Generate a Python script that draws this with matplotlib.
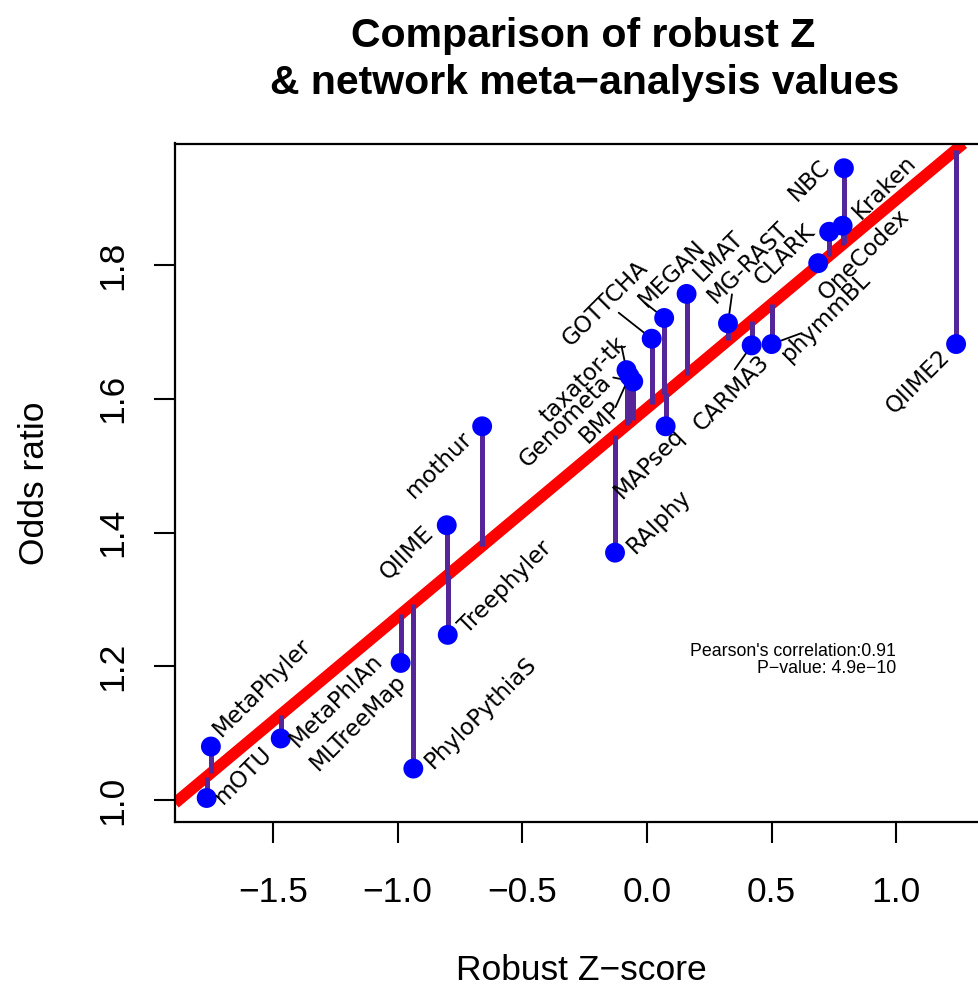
import matplotlib
matplotlib.use('Agg')
import matplotlib.pyplot as plt
import numpy as np

# ---------------- data ----------------
tools = ['mOTU', 'MetaPhyler', 'MetaPhlAn', 'MLTreeMap', 'PhyloPythiaS', 'QIIME',
         'Treephyler', 'mothur', 'RAIphy', 'taxator-tk', 'BMP', 'Genometa',
         'GOTTCHA', 'MEGAN', 'MAPseq', 'LMAT', 'MG-RAST', 'CARMA3', 'phymmBL',
         'OneCodex', 'CLARK', 'Kraken', 'NBC', 'QIIME2']
robust_z = [-1.766, -1.749, -1.469, -0.988, -0.937, -0.803,
            -0.799, -0.661, -0.128, -0.082, -0.070, -0.055,
            0.019, 0.069, 0.075, 0.159, 0.325, 0.420, 0.500,
            0.687, 0.731, 0.785, 0.790, 1.240]
odds_ratio = [1.003, 1.080, 1.092, 1.205, 1.047, 1.411,
              1.247, 1.559, 1.370, 1.643, 1.634, 1.626,
              1.690, 1.721, 1.559, 1.757, 1.713, 1.680, 1.682,
              1.803, 1.850, 1.859, 1.945, 1.682]
fit_intercept = 1.586
fit_slope = 0.312
pearson_r = '0.91'
p_value = '4.9e\u221210'

# ---------------- layout (pixels, dy positive = up) ----------------
label_offset = {
    'mOTU': (37, 23), 'MetaPhyler': (51, 59), 'MetaPhlAn': (55, 38),
    'MLTreeMap': (-43, -59), 'PhyloPythiaS': (67, 56), 'QIIME': (-40, -27),
    'Treephyler': (58, 48), 'mothur': (-43, -38), 'RAIphy': (44, 31),
    'taxator-tk': (-43, -10), 'BMP': (-29, -46), 'Genometa': (-68, -40),
    'GOTTCHA': (-46, 35), 'MEGAN': (8, 45), 'MAPseq': (-16, -37),
    'LMAT': (32, 38), 'MG-RAST': (20, 61), 'CARMA3': (-20, -48),
    'phymmBL': (54, 27), 'OneCodex': (46, 9), 'CLARK': (-44, -23),
    'Kraken': (42, 39), 'NBC': (-35, -12), 'QIIME2': (-38, -37),
}
leaders = {
    'GOTTCHA': (-33, 26),
    'MEGAN': (-19, 15),
    'MG-RAST': (4, 29),
    'CARMA3': (-17, -24),
    'phymmBL': (30, 11),
    'taxator-tk': (-5, 24),
    'Genometa': (-20, 4),
    'BMP': (-14, -31),
}
PX = 0.72  # points per pixel at dpi 100

W, H = 979, 991
fig = plt.figure(figsize=(W / 100, H / 100), dpi=100)
ax_l, ax_r, ax_t, ax_b = 175, 988, 143.5, 822
ax = fig.add_axes([ax_l / W, 1 - ax_b / H, (ax_r - ax_l) / W, (ax_b - ax_t) / H])

ax.set_xlim(-1.893, 1.368)
ax.set_ylim(0.9671, 1.982)

x = np.array(robust_z)
y = np.array(odds_ratio)
fitted = fit_intercept + fit_slope * x

ax.axline((0, fit_intercept), slope=fit_slope, color='#FF0000', lw=8.3, zorder=1,
          solid_capstyle='butt')
ax.vlines(x, y, fitted, colors='#55259A', lw=3.6, zorder=2)
ax.scatter(x, y, s=205, color='#0000FF', edgecolors='none', zorder=4)

label_font = ['DejaVu Sans']
for name, xi, yi in zip(tools, x, y):
    dx, dy = label_offset[name]
    ax.annotate(name, xy=(xi, yi), xytext=(dx * PX, dy * PX), textcoords='offset points',
                rotation=45, rotation_mode='anchor', ha='center', va='center',
                fontsize=16.5, family=label_font, zorder=5)
    if name in leaders:
        sx, sy = leaders[name]
        ax.annotate('', xy=(xi, yi), xytext=(sx * PX, sy * PX), textcoords='offset points',
                    arrowprops=dict(arrowstyle='-', color='black', lw=1.3,
                                    shrinkA=0, shrinkB=0),
                    zorder=3)

ax.text(0.999, 1.222, "Pearson's correlation:" + pearson_r, ha='right', va='center',
        fontsize=12.8, family='Liberation Sans')
ax.text(0.999, 1.197, 'P\u2212value: ' + p_value, ha='right', va='center',
        fontsize=12.8, family='Liberation Sans')

ax.set_xticks([-1.5, -1.0, -0.5, 0.0, 0.5, 1.0])
ax.set_yticks([1.0, 1.2, 1.4, 1.6, 1.8])
ax.set_xticklabels(['\u22121.5', '\u22121.0', '\u22120.5', '0.0', '0.5', '1.0'])
ax.set_yticklabels(['1.0', '1.2', '1.4', '1.6', '1.8'])
ax.tick_params(axis='both', length=15, width=1.5, direction='out', labelsize=25.5, color='black')
ax.tick_params(axis='x', pad=24)
ax.tick_params(axis='y', pad=18)
for lab in ax.get_xticklabels() + ax.get_yticklabels():
    lab.set_family('Liberation Sans')
for lab in ax.get_yticklabels():
    lab.set_rotation(90)
    lab.set_va('center')
    lab.set_ha('right')
for s in ax.spines.values():
    s.set_linewidth(1.6)
    s.set_color('black')

fig.text(581 / W, 1 - 971 / H, 'Robust Z\u2212score', ha='center', va='center',
         fontsize=25.5, family='Liberation Sans')
fig.text(35 / W, 1 - 483 / H, 'Odds ratio', ha='center', va='center', rotation=90,
         fontsize=25.5, family='Liberation Sans')
fig.text(583 / W, 1 - 47 / H, 'Comparison of robust Z', ha='center', va='baseline',
         fontsize=29.5, fontweight='bold', family='Liberation Sans')
fig.text(585 / W, 1 - 94 / H, '& network meta\u2212analysis values', ha='center',
         va='baseline', fontsize=29.5, fontweight='bold', family='Liberation Sans')

fig.savefig('out.png', dpi=100)
